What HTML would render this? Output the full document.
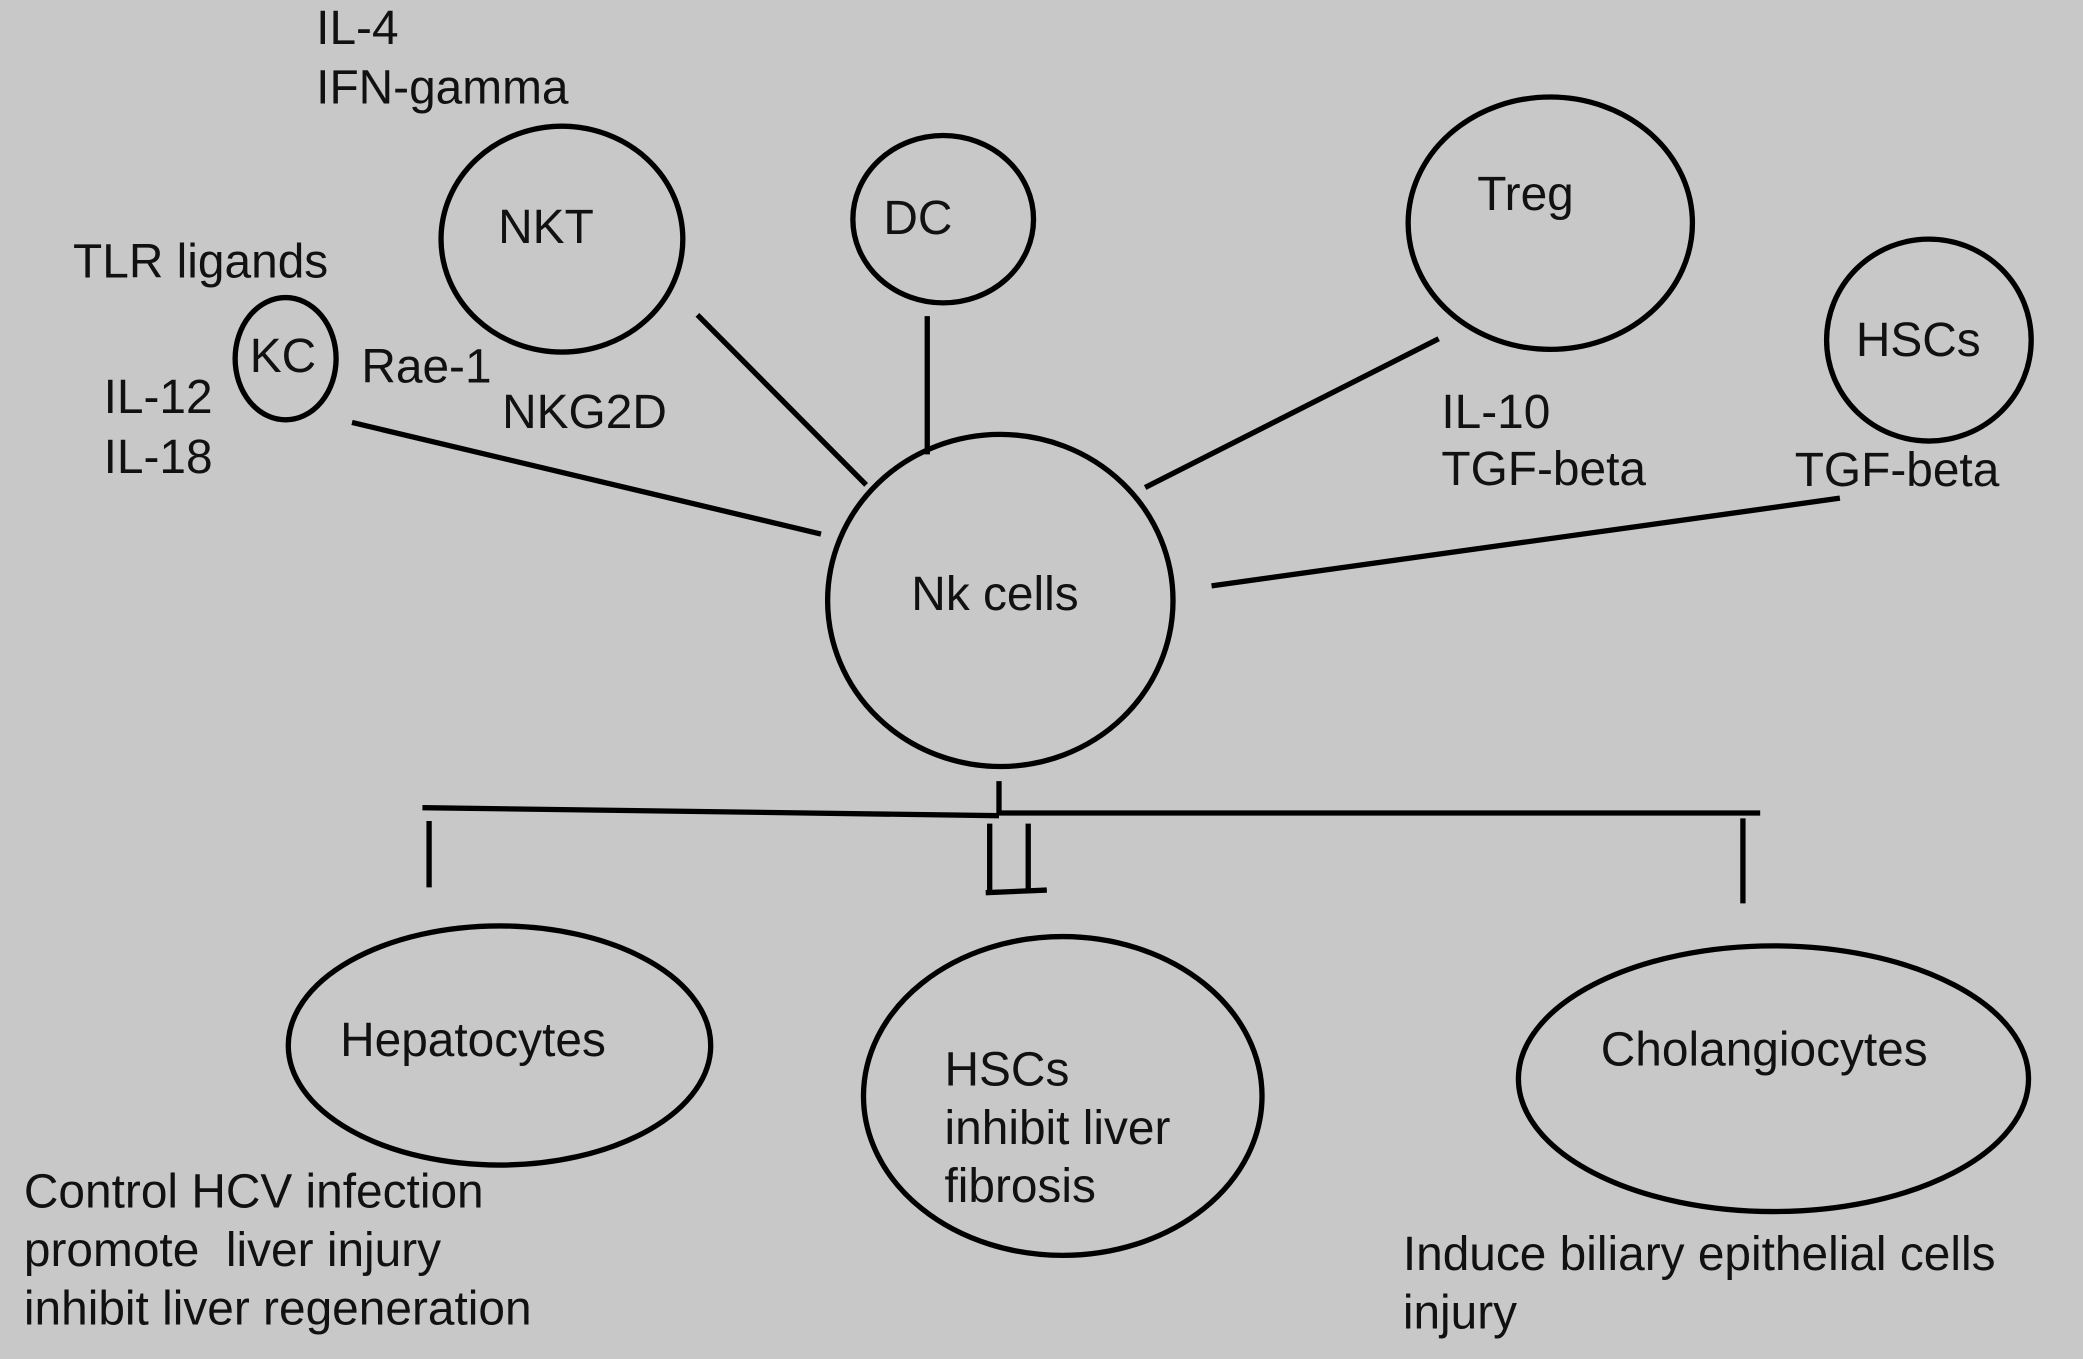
<!DOCTYPE html>
<html><head><style>html,body{margin:0;padding:0;background:#c8c8c8;}svg{display:block}text{white-space:pre}</style></head>
<body>
<svg width="2083" height="1359" viewBox="0 0 1568 1023" preserveAspectRatio="none" xmlns="http://www.w3.org/2000/svg">
<rect width="1568" height="1023" fill="#c8c8c8"/>
<g fill="none" stroke="#000" stroke-width="4">
<ellipse cx="423" cy="180" rx="91" ry="85"/>
<ellipse cx="710" cy="165" rx="68" ry="63"/>
<ellipse cx="1167" cy="168" rx="107" ry="95"/>
<ellipse cx="1452" cy="256" rx="77" ry="76"/>
<ellipse cx="215" cy="270" rx="38" ry="46"/>
<ellipse cx="753" cy="452" rx="130" ry="125"/>
<ellipse cx="376" cy="787" rx="159" ry="90"/>
<ellipse cx="800" cy="825" rx="150" ry="120"/>
<ellipse cx="1335" cy="812" rx="192" ry="100"/>
<line x1="265" y1="318" x2="618" y2="402"/>
<line x1="525" y1="237" x2="652" y2="365"/>
<line x1="698" y1="238" x2="698" y2="342"/>
<line x1="1083" y1="255" x2="862" y2="367"/>
<line x1="912" y1="441" x2="1385" y2="375"/>
<line x1="318" y1="608" x2="752" y2="614"/>
<line x1="752" y1="612" x2="1325" y2="612"/>
<line x1="752" y1="588" x2="752" y2="612"/>
<line x1="323" y1="618" x2="323" y2="668"/>
<line x1="1312" y1="616" x2="1312" y2="680"/>
<line x1="745" y1="620" x2="745" y2="672"/>
<line x1="774" y1="620" x2="774" y2="670"/>
<line x1="742" y1="672" x2="788" y2="670"/>
</g>
<g font-family="Liberation Sans, sans-serif" font-size="36" fill="#111">
<text x="238" y="33">IL-4</text>
<text x="238" y="78">IFN-gamma</text>
<text x="375" y="183">NKT</text>
<text x="665" y="176">DC</text>
<text x="1112" y="158">Treg</text>
<text x="1397" y="268">HSCs</text>
<text x="55" y="209">TLR ligands</text>
<text x="188" y="280">KC</text>
<text x="272" y="288">Rae-1</text>
<text x="78" y="311">IL-12</text>
<text x="78" y="356">IL-18</text>
<text x="378" y="322">NKG2D</text>
<text x="1085" y="322">IL-10</text>
<text x="1085" y="365">TGF-beta</text>
<text x="1351" y="366">TGF-beta</text>
<text x="686" y="459">Nk cells</text>
<text x="256" y="795">Hepatocytes</text>
<text x="711" y="817">HSCs</text>
<text x="711" y="861">inhibit liver</text>
<text x="711" y="905">fibrosis</text>
<text x="1205" y="802">Cholangiocytes</text>
<text x="18" y="909">Control HCV infection</text>
<text x="18" y="953">promote  liver injury</text>
<text x="18" y="997">inhibit liver regeneration</text>
<text x="1056" y="956">Induce biliary epithelial cells</text>
<text x="1056" y="1000">injury</text>
</g>
</svg>
</body></html>
